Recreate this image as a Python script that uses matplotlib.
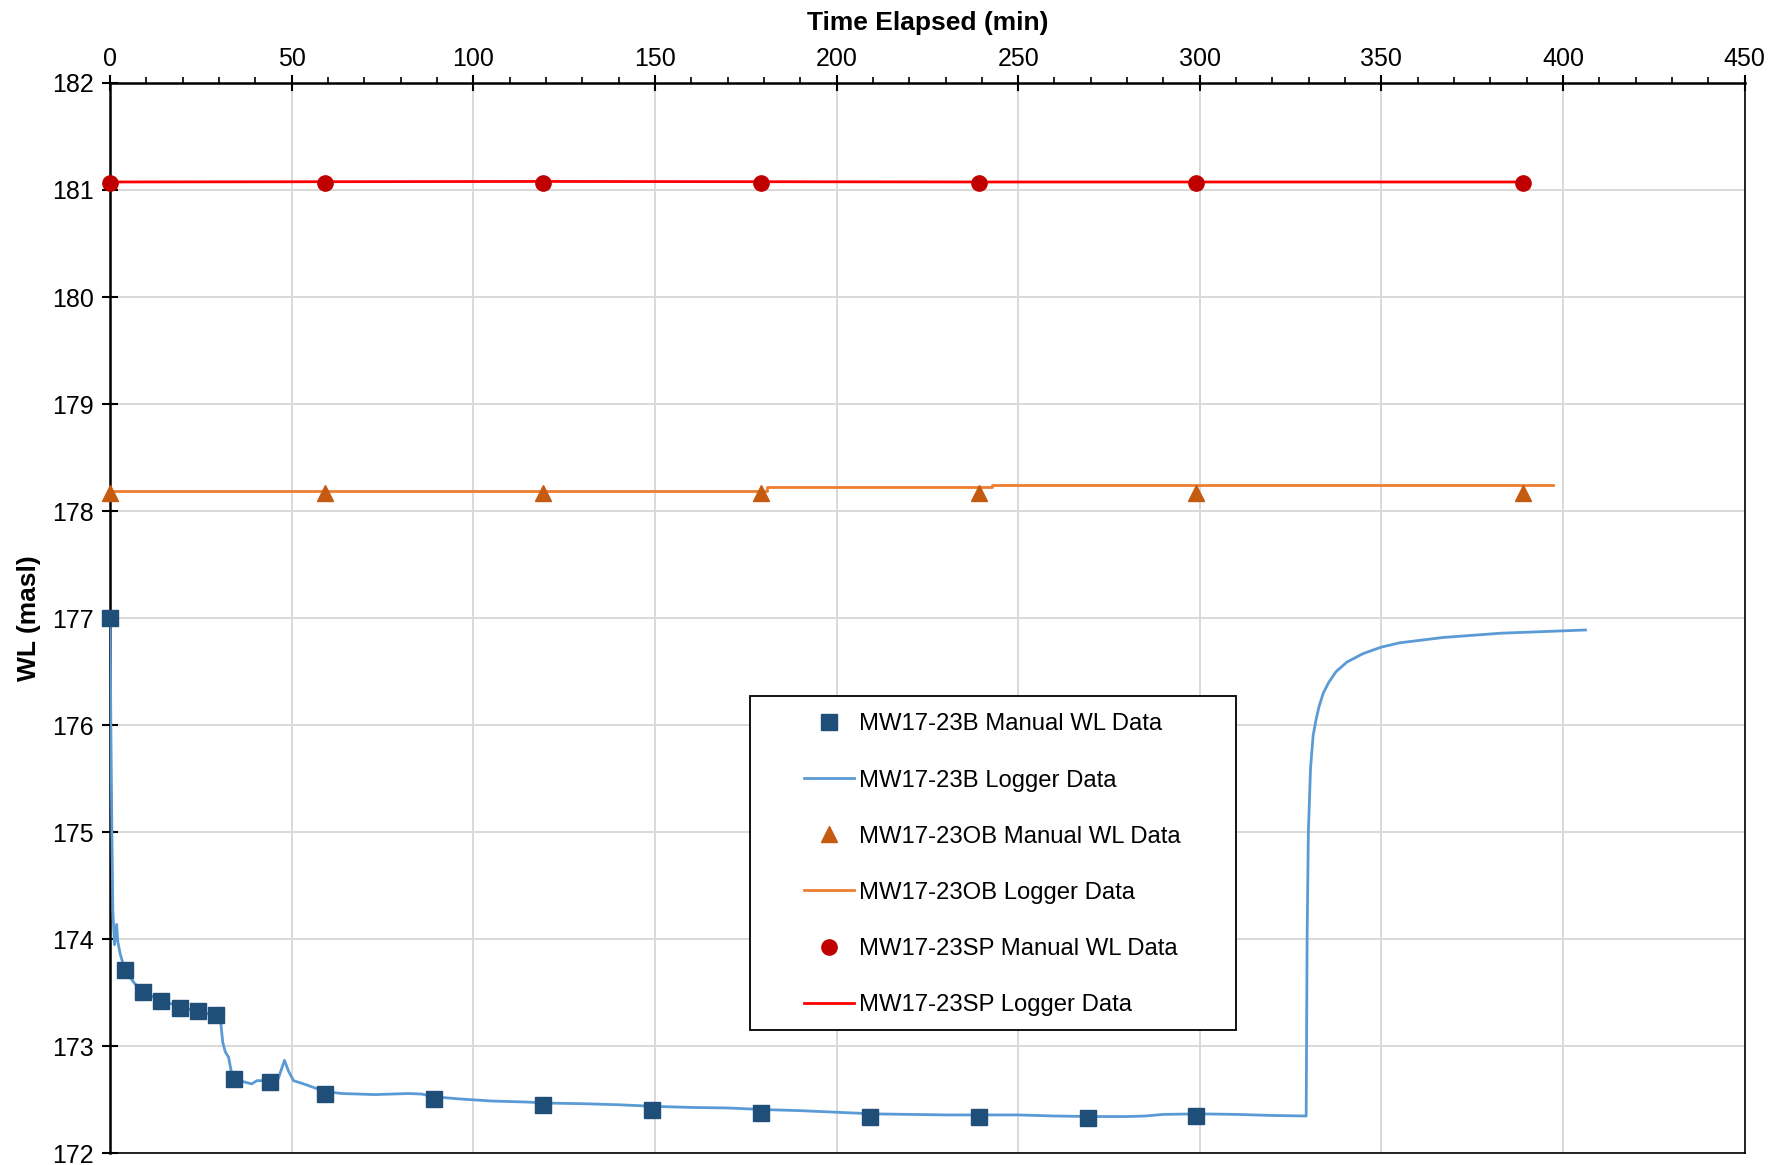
import matplotlib
matplotlib.use("Agg")
import matplotlib.pyplot as plt
from matplotlib.ticker import MultipleLocator
from matplotlib.patches import Rectangle

plt.rcParams['font.family'] = ['Liberation Sans', 'DejaVu Sans']

# MW17-23B manual readings
b_man_t = [0, 4.1, 9.1, 14.1, 19.1, 24.1, 29.1, 34.1, 44.1, 59.1, 89.1,
           119.1, 149.1, 179.1, 209.1, 239.1, 269.1, 299.1]
b_man_wl = [177.00, 173.71, 173.51, 173.42, 173.36, 173.33, 173.29, 172.70,
            172.67, 172.56, 172.51, 172.45, 172.41, 172.38, 172.34, 172.34,
            172.33, 172.35]

# MW17-23B logger
b_log_t = [0, 0.2, 0.5, 0.75, 1.2, 1.8, 2.1, 2.8, 4.1, 6.7, 9.1, 12, 15, 20,
           25, 29.1, 30.5, 31.0, 31.7, 32.6, 33.5, 34.1, 36.7, 39, 40.4, 44.1,
           46.3, 48.0, 49.1, 50.5, 53.7, 59, 63.8, 72.9, 82.1, 85.8, 89.1,
           95.9, 105, 115, 120.5, 121, 121.5, 130, 140, 150, 160, 170, 180,
           190, 200, 210, 220, 230, 240, 250, 260, 270, 280, 285, 290, 300,
           310, 320, 329.3, 329.4, 329.55, 329.9, 330.5, 331.2, 332.0, 332.8,
           334.0, 335.5, 337.5, 340.5, 345.0, 350.0, 355.0, 367.0, 383.0,
           406.2]
b_log_wl = [177.00, 176.00, 174.95, 174.27, 173.95, 174.14, 173.98, 173.86,
            173.71, 173.59, 173.51, 173.46, 173.42, 173.36, 173.32, 173.29,
            173.21, 173.04, 172.95, 172.90, 172.74, 172.70, 172.67, 172.65,
            172.68, 172.68, 172.70, 172.87, 172.77, 172.68, 172.645, 172.58,
            172.56, 172.55, 172.56, 172.555, 172.53, 172.51, 172.49, 172.48,
            172.47, 172.495, 172.47, 172.465, 172.455, 172.44, 172.43, 172.425,
            172.41, 172.40, 172.385, 172.37, 172.365, 172.36, 172.36, 172.36,
            172.35, 172.345, 172.345, 172.35, 172.365, 172.37, 172.365,
            172.355, 172.35, 173.00, 174.00, 175.00, 175.60, 175.90, 176.05,
            176.17, 176.30, 176.40, 176.50, 176.59, 176.67, 176.73, 176.77,
            176.82, 176.86, 176.89]

# MW17-23OB
ob_man_t = [0, 59.1, 119.1, 179.1, 239.1, 299.1, 389.1]
ob_man_wl = [178.17, 178.17, 178.17, 178.17, 178.17, 178.17, 178.17]
ob_log_t = [0, 180.8, 180.8, 242.7, 242.7, 397.2]
ob_log_wl = [178.19, 178.19, 178.225, 178.225, 178.24, 178.24]

# MW17-23SP
sp_man_t = [0, 59.1, 119.1, 179.1, 239.1, 299.1, 389.1]
sp_man_wl = [181.07, 181.07, 181.07, 181.07, 181.07, 181.07, 181.07]
sp_log_t = [0, 120, 240, 389.1]
sp_log_wl = [181.075, 181.08, 181.075, 181.075]

fig = plt.figure(figsize=(17.82, 11.65), dpi=100)
ax = fig.add_axes([0.0618, 0.0099, 0.979 - 0.0618, 0.9288 - 0.0099])

l1, = ax.plot(b_log_t, b_log_wl, color='#5B9BD5', lw=2.0, zorder=3)
l2, = ax.plot(ob_log_t, ob_log_wl, color='#ED7D31', lw=2.0, zorder=3)
l3, = ax.plot(sp_log_t, sp_log_wl, color='#FF0000', lw=2.0, zorder=3)
m1, = ax.plot(b_man_t, b_man_wl, 's', color='#1F4E79', ms=11, zorder=4, clip_on=False)
m2, = ax.plot(ob_man_t, ob_man_wl, '^', color='#C55A11', ms=11, zorder=4, clip_on=False)
m3, = ax.plot(sp_man_t, sp_man_wl, 'o', color='#C00000', ms=11, zorder=4, clip_on=False)

ax.set_xlim(0, 450)
ax.set_ylim(172, 182)
ax.xaxis.set_major_locator(MultipleLocator(50))
ax.xaxis.set_minor_locator(MultipleLocator(10))
ax.yaxis.set_major_locator(MultipleLocator(1))
ax.xaxis.tick_top()
ax.xaxis.set_label_position('top')
ax.tick_params(axis='x', which='major', direction='inout', length=11, width=1.5,
               top=True, bottom=False, labeltop=True, labelbottom=False,
               labelsize=18, pad=3)
ax.tick_params(axis='x', which='minor', direction='out', length=4, width=1.2,
               top=True, bottom=False)
ax.tick_params(axis='y', which='major', direction='inout', length=11, width=1.5,
               left=True, right=False, labelsize=18, pad=6)

ax.grid(True, which='major', color='#d9d9d9', lw=1.4)
ax.set_axisbelow(True)
for s in ['top', 'left']:
    ax.spines[s].set_linewidth(1.8)
for s in ['right', 'bottom']:
    ax.spines[s].set_linewidth(1.2)

ax.set_xlabel('Time Elapsed (min)', fontsize=19, fontweight='bold', labelpad=12)
ax.set_ylabel('WL (masl)', fontsize=19, fontweight='bold', labelpad=8)

# legend box
ax.add_patch(Rectangle((0.3917, 0.1154), 0.6891 - 0.3917, 0.4274 - 0.1154,
                       transform=ax.transAxes, facecolor='white',
                       edgecolor='black', lw=1.3, zorder=5))
leg = ax.legend([m1, l1, m2, l2, m3, l3],
                ['MW17-23B Manual WL Data', 'MW17-23B Logger Data',
                 'MW17-23OB Manual WL Data', 'MW17-23OB Logger Data',
                 'MW17-23SP Manual WL Data', 'MW17-23SP Logger Data'],
                loc='center left', bbox_to_anchor=(0.4174, 0.2697),
                frameon=False, borderpad=0, handlelength=2.1,
                handletextpad=0.2, labelspacing=1.43, fontsize=17.2)
leg.set_zorder(6)

fig.savefig('out.png', dpi=100)
